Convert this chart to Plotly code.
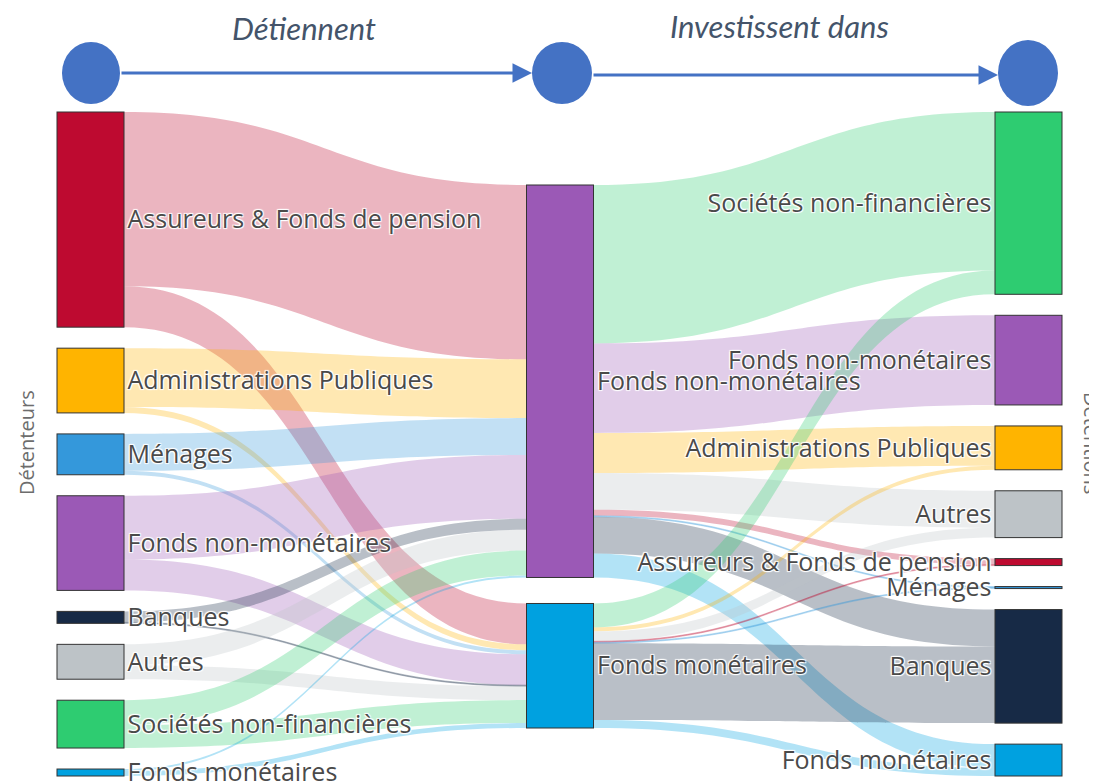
import plotly.graph_objects as go

# ---------------- data ----------------
holders = ["Assureurs & Fonds de pension", "Administrations Publiques", "Ménages",
           "Fonds non-monétaires", "Banques", "Autres", "Sociétés non-financières",
           "Fonds monétaires"]
funds = ["Fonds non-monétaires", "Fonds monétaires"]
targets = ["Sociétés non-financières", "Fonds non-monétaires", "Administrations Publiques",
           "Autres", "Assureurs & Fonds de pension", "Ménages", "Banques", "Fonds monétaires"]

# holders -> funds (per holder, in holders order)
to_fnm = [175, 59, 37, 64, 11, 21, 25, 2]
to_fm = [41, 6, 4, 31, 1, 14, 23, 5]
# funds -> targets (per target, in targets order)
fnm_to = [159, 90, 40, 37, 6, 1, 37, 24]
fm_to = [24, 0, 4, 10, 1, 1, 77, 8]

holder_colors = ["#BE0A30", "#FFB400", "#3498DB", "#9B59B6", "#172A46", "#BDC3C7", "#2ECC71", "#00A1E0"]
fund_colors = ["#9B59B6", "#00A1E0"]
target_colors = ["#2ECC71", "#9B59B6", "#FFB400", "#BDC3C7", "#BE0A30", "#3498DB", "#172A46", "#00A1E0"]


def rgba(hexc, a=0.3):
    h = hexc.lstrip("#")
    return "rgba(%d,%d,%d,%.2f)" % (int(h[0:2], 16), int(h[2:4], 16), int(h[4:6], 16), a)


W, H = 1097, 783
OFF = 8                      # page body margin
TOP, BOT = 112 - OFF, 776 - OFF   # sankey vertical extent (px)
PAD = 21
HD = BOT - TOP

labels = holders + funds + targets
colors = holder_colors + fund_colors + target_colors
nH, nF = len(holders), len(funds)

source, target, value, lcolor = [], [], [], []
for i in range(nH):
    for j, vals in enumerate([to_fnm, to_fm]):
        if vals[i] > 0:
            source.append(i); target.append(nH + j); value.append(vals[i])
            lcolor.append(rgba(holder_colors[i]))
for j, vals in enumerate([fnm_to, fm_to]):
    for k in range(len(targets)):
        if vals[k] > 0:
            source.append(nH + j); target.append(nH + nF + k); value.append(vals[k])
            lcolor.append(rgba(target_colors[k]))

holder_tot = [a + b for a, b in zip(to_fnm, to_fm)]
fund_tot = [sum(to_fnm), sum(to_fm)]
target_tot = [a + b for a, b in zip(fnm_to, fm_to)]
ky = (HD - (len(holders) - 1) * PAD) / max(sum(holder_tot), sum(target_tot))


def centers(tots, offset=0, pad=PAD):
    out, y = [], offset
    for t in tots:
        h = t * ky
        out.append((y + h / 2) / HD)
        y += h + pad
    return out


xs = [(90.5 - OFF) / W] * nH + [(560 - OFF) / W] * nF + [(1028.5 - OFF) / W] * len(targets)
ys = centers(holder_tot) + centers(fund_tot, offset=73, pad=26) + centers(target_tot)

fig = go.Figure(go.Sankey(
    arrangement="fixed",
    domain=dict(x=[0, 1], y=[1 - BOT / H, 1 - TOP / H]),
    node=dict(label=labels, color=colors, pad=PAD, thickness=67,
              line=dict(color="#333333", width=1), x=xs, y=ys),
    link=dict(source=source, target=target, value=value, color=lcolor),
    textfont=dict(family="Open Sans", size=25, color="#4a4a4a"),
))


def px(x):
    return (x - OFF) / W


def py(y):
    return 1 - (y - OFF) / H


blue = "#4472C4"
shapes = []
for (x0, x1, y0, y1) in [(62, 120, 42, 104), (532, 592, 42, 104), (998, 1058, 40, 106)]:
    shapes.append(dict(type="circle", xref="paper", yref="paper",
                       x0=px(x0), x1=px(x1), y0=py(y1), y1=py(y0),
                       fillcolor=blue, line=dict(width=0), layer="above"))

ann = [
    dict(x=px(532), y=py(73), ax=-(532 - 120), ay=0, xref="paper", yref="paper",
         showarrow=True, arrowhead=2, arrowsize=1.3,
         arrowwidth=3, arrowcolor=blue, text=""),
    dict(x=px(998), y=py(75), ax=-(998 - 592), ay=0, xref="paper", yref="paper",
         showarrow=True, arrowhead=2, arrowsize=1.3,
         arrowwidth=3, arrowcolor=blue, text=""),
    dict(x=px(304), y=py(28), xref="paper", yref="paper", showarrow=False,
         xanchor="center", yanchor="middle",
         text="<i>Détiennent</i>", font=dict(family="Lato", size=31, color="#44546A")),
    dict(x=px(780), y=py(26), xref="paper", yref="paper", showarrow=False,
         xanchor="center", yanchor="middle",
         text="<i>Investissent dans</i>", font=dict(family="Lato", size=31, color="#44546A")),
    dict(x=px(26), y=py(443), xref="paper", yref="paper", showarrow=False,
         xanchor="center", yanchor="middle",
         text="Détenteurs", textangle=-90, font=dict(family="Open Sans", size=20, color="#6d6d6d")),
    dict(x=px(1092), y=py(443), xref="paper", yref="paper", showarrow=False,
         xanchor="center", yanchor="middle",
         text="Détentions", textangle=90, font=dict(family="Open Sans", size=20, color="#6d6d6d")),
]

fig.update_layout(width=W, height=H, margin=dict(l=0, r=0, t=0, b=0),
                  paper_bgcolor="white", plot_bgcolor="white",
                  font=dict(family="Open Sans"), shapes=shapes, annotations=ann)
fig.write_html("out.html")
